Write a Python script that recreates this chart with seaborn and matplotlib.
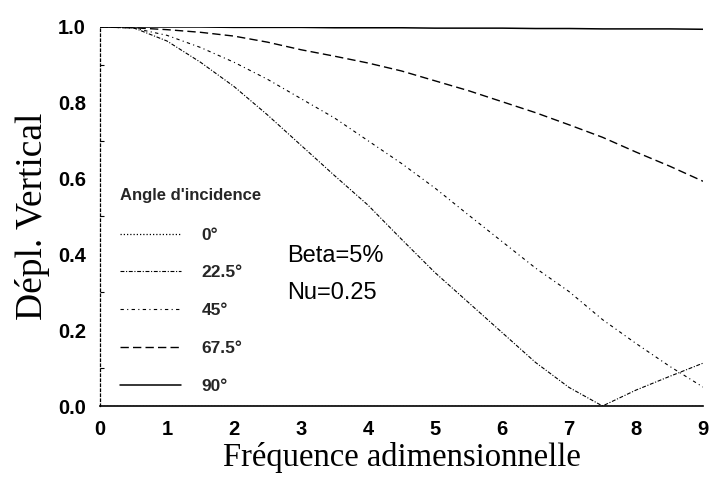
import matplotlib
matplotlib.use("Agg")
import matplotlib.pyplot as plt
import seaborn as sns
import numpy as np
import pandas as pd
from matplotlib.ticker import MultipleLocator

# ---- data ----
freq = [0, 0.5, 1, 1.5, 2, 2.5, 3, 3.5, 4, 4.5, 5, 5.5, 6, 6.5, 7, 7.5, 8, 8.5, 9]
angle_labels = ["0°", "22.5°", "45°", "67.5°", "90°"]
d_0 = [0.0] * 19
d_22_5 = [1.0, 0.998, 0.963, 0.907, 0.843, 0.768, 0.688, 0.608, 0.530, 0.440,
          0.352, 0.273, 0.194, 0.115, 0.049, 0.0, 0.042, 0.078, 0.113]
d_45 = [1.0, 0.997, 0.978, 0.946, 0.907, 0.862, 0.811, 0.760, 0.700, 0.640,
        0.575, 0.504, 0.434, 0.364, 0.302, 0.228, 0.165, 0.105, 0.050]
d_67_5 = [1.0, 0.998, 0.993, 0.986, 0.976, 0.960, 0.940, 0.923, 0.905, 0.884,
          0.858, 0.832, 0.803, 0.774, 0.742, 0.709, 0.670, 0.633, 0.593]
d_90 = [1.0, 1.0, 1.0, 1.0, 0.999, 0.999, 0.999, 0.998, 0.998, 0.998,
        0.997, 0.997, 0.997, 0.996, 0.996, 0.995, 0.995, 0.995, 0.994]
series = [d_0, d_22_5, d_45, d_67_5, d_90]

x_ticks = [0, 1, 2, 3, 4, 5, 6, 7, 8, 9]
y_ticks = [0.0, 0.2, 0.4, 0.6, 0.8, 1.0]

# ---- styling ----
sns.set_theme(style="white")
plt.rcParams['font.family'] = ['Liberation Sans', 'DejaVu Sans']

styles = [(0, (1, 1.6)), (0, (3.5, 1.5, 1, 1.5)), (0, (3, 3, 1, 3)),
          (0, (6, 3)), "-"]
widths = [0.9, 0.8, 0.8, 1.0, 1.1]

fig = plt.figure(figsize=(7.1, 4.8), dpi=100)
ax = fig.add_axes([100 / 710, 1 - 406 / 480, 603 / 710, 379 / 480])

for lab, vals, ls, lw in zip(angle_labels, series, styles, widths):
    df = pd.DataFrame({"freq": freq, "val": vals})
    sns.lineplot(data=df, x="freq", y="val", ax=ax, color="black",
                 linestyle=ls, linewidth=lw, label=lab, legend=False)

ax.set_xlim(0, 9)
ax.set_ylim(0, 1.0)
ax.set_xticks(x_ticks)
ax.set_yticks(y_ticks)
ax.set_xticklabels([str(t) for t in x_ticks])
ax.set_yticklabels([f"{t:.1f}" for t in y_ticks])
ax.yaxis.set_minor_locator(MultipleLocator(0.1))

for s in ["top", "right"]:
    ax.spines[s].set_visible(False)
ax.spines["left"].set_color("black")
ax.spines["left"].set_linewidth(0.9)
ax.spines["left"].set_linestyle((0, (2, 2)))
ax.spines["bottom"].set_color("black")
ax.spines["bottom"].set_linewidth(1.2)

ax.tick_params(axis="both", which="major", direction="out", length=6,
               width=1, color="black", labelsize=14.5, pad=4)
ax.tick_params(axis="y", which="minor", direction="in", length=3,
               width=0.8, color="black", left=True)
ax.tick_params(axis="x", which="major", pad=4)
for t in ax.get_xticklabels() + ax.get_yticklabels():
    t.set_fontweight("bold")
    t.set_color("black")

ax.set_xlabel("Fréquence adimensionnelle", family=["Liberation Serif"],
              fontsize=23.5, color="black", labelpad=2)
ax.set_ylabel("Dépl. Vertical", family=["Liberation Serif"],
              fontsize=27, color="black", labelpad=6)

ax.text(2.8, 0.395, "Beta=5%", fontsize=17, color="black",
        ha="left", va="center")
ax.text(2.8, 0.298, "Nu=0.25", fontsize=17, color="black",
        ha="left", va="center")

handles, labels = ax.get_legend_handles_labels()
leg = ax.legend(handles, labels, title="Angle d'incidence",
                loc="upper left", bbox_to_anchor=(120 / 710, 1 - 188 / 480),
                bbox_transform=fig.transFigure, frameon=False,
                fontsize=12.5, title_fontsize=12, handlelength=3.5,
                handletextpad=1.2, labelspacing=1.3, alignment="left",
                borderaxespad=0, borderpad=0)
leg._legend_box.sep = 17.7
for t in leg.get_texts():
    t.set_fontweight("bold")
leg.get_title().set_fontweight("bold")

fig.savefig("out.png", dpi=100, facecolor="white")
